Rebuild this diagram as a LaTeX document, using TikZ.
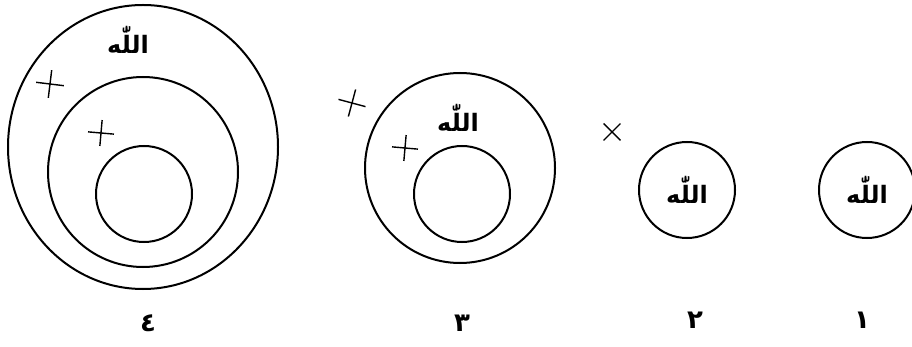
\documentclass[tikz,border=0pt]{standalone}
\usepackage{fontspec}
\newfontfamily\arabicfont[Script=Arabic]{DejaVu Sans}
\TeXXeTstate=1
\usetikzlibrary{positioning,calc}
\tikzset{
  ring/.style={draw=black, line width=2pt},
  allahtext/.style={font=\arabicfont\bfseries\fontsize{24}{28}\selectfont, inner sep=0pt},
  numlabel/.style={font=\arabicfont\bfseries\fontsize{26}{30}\selectfont, inner sep=0pt},
  cross/.style={draw=black, line width=1.4pt}
}
\newcommand{\allah}{\beginR اللّٰه\endR}
\newcommand{\plusmark}[3]{% centre, half size, tilt
  \draw[cross, rotate around={#3:(#1)}] ($(#1)+(-#2pt,0)$) -- ($(#1)+(#2pt,0)$);
  \draw[cross, rotate around={#3:(#1)}] ($(#1)+(0,-#2pt)$) -- ($(#1)+(0,#2pt)$);
}
\begin{document}
\begin{tikzpicture}[x=1pt, y=-1pt]
  \useasboundingbox (0,0) rectangle (912,347);

  % figure 4
  \coordinate (c4) at (143,147);
  \coordinate (m4) at (143,172);
  \coordinate (i4) at (144,194);
  \draw[ring] (c4) ellipse (135pt and 142pt);
  \draw[ring] (m4) circle (95pt);
  \draw[ring] (i4) circle (48pt);
  \node[allahtext] (allah4) at (128,40) {\allah};
  \coordinate (p4a) at (50,84);
  \coordinate (p4b) at (101,133);
  \plusmark{p4a}{14}{-7}
  \plusmark{p4b}{13}{-5}
  \node[numlabel] (num4) at (148,323) {\beginR ٤\endR};

  % figure 3
  \coordinate (c3) at (460,168);
  \coordinate (i3) at (462,194);
  \draw[ring] (c3) circle (95pt);
  \draw[ring] (i3) circle (48pt);
  \node[allahtext] (allah3) at (458,118) {\allah};
  \coordinate (p3a) at (352,103);
  \coordinate (p3b) at (405,148);
  \plusmark{p3a}{14}{-15}
  \plusmark{p3b}{13}{-5}
  \node[numlabel] (num3) at (462,323) {\beginR ٣\endR};

  % figure 2
  \coordinate (c2) at (687,190);
  \draw[ring] (c2) circle (48pt);
  \node[allahtext] (allah2) at (c2) {\allah};
  \coordinate (x2) at (612,132);
  \plusmark{x2}{12}{45}
  \node[numlabel] (num2) at (695,320) {\beginR ٢\endR};

  % figure 1
  \coordinate (c1) at (867,190);
  \draw[ring] (c1) circle (48pt);
  \node[allahtext] (allah1) at (c1) {\allah};
  \node[numlabel] (num1) at (862,320) {\beginR ١\endR};
\end{tikzpicture}
\end{document}
